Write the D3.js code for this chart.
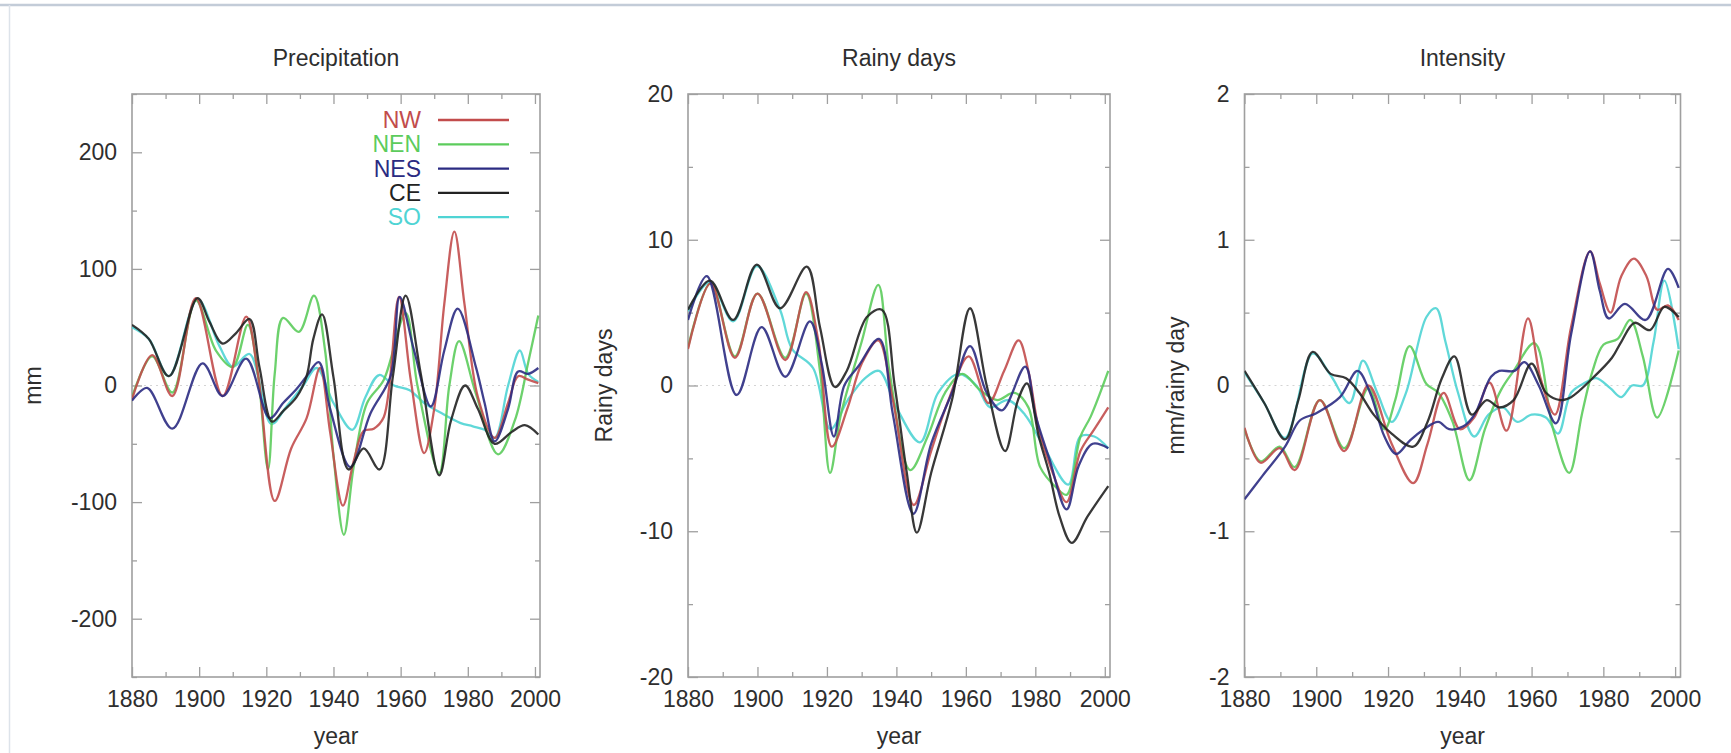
<!DOCTYPE html>
<html>
<head>
<meta charset="utf-8">
<script src="https://cdn.jsdelivr.net/npm/d3@7"></script>
<style>
  html, body { margin: 0; padding: 0; background: #ffffff; }
  svg { display: block; font-family: "Liberation Sans", Arial, Helvetica, sans-serif; }
</style>
</head>
<body>
<svg id="chart" width="1731" height="753"></svg>
<script>
// Regions and their line colours (legend order)
const regions = ["NW", "NEN", "NES", "CE", "SO"];
const regionColors = ["#c24c4c", "#5ccc5c", "#2b2b82", "#222222", "#4fd4d4"];

// Shared year axis
const yearDomain = [1880, 2001.5];
const yearTicks = [1880, 1900, 1920, 1940, 1960, 1980, 2000];
const yearMinorTicks = [1890, 1910, 1930, 1950, 1970, 1990];

// Precipitation anomalies (mm), smoothed series as [year, value] knots
const precipNW = [[1880,-12],[1886,26],[1892,-9],[1899,75],[1907,-9],[1914,59],[1917.5,10],[1922.5,-99],[1927.4,-54],[1932,-28],[1936,15],[1939,-40],[1942.8,-103],[1946,-65],[1949,-39],[1952,-37],[1955,-27],[1959.5,76],[1963,5],[1967,-58],[1970,-20],[1973,70],[1976,132],[1979,70],[1983,-10],[1988,-45],[1992,-15],[1995,8],[1998,5],[2001,2]];
const precipNEN = [[1880,-10],[1886,25],[1892,-6],[1899,73],[1905,30],[1910,16],[1914.5,52],[1917.5,10],[1920.5,-72],[1922.5,10],[1925,58],[1929.7,46],[1934.2,77],[1937.5,30],[1940,-60],[1943.1,-128],[1946,-70],[1950,-15],[1955,5],[1961.5,62],[1965,0],[1971.5,-75],[1974.5,0],[1977.4,38],[1982.4,-7],[1989,-59],[1994,-30],[1998,20],[2001,60]];
const precipNES = [[1880,-13],[1884.5,-2],[1892,-37],[1901,19],[1907,-9],[1914,23],[1921,-28],[1925,-15],[1929,-3],[1932,8],[1935.6,20],[1939,-20],[1945,-70],[1951,-24],[1957,8],[1959.7,76],[1964,30],[1969,-18],[1973,30],[1977,66],[1982.4,16],[1985,-15],[1988,-48],[1992,-20],[1995,12],[1998,10],[2001,15]];
const precipCE = [[1880,52],[1885,40],[1891,8],[1899.5,75],[1903,55],[1907,36],[1911,45],[1915,57],[1918,15],[1921.7,-31],[1925,-22],[1929,-10],[1932,8],[1934,40],[1936.6,61],[1940,7],[1944.5,-72],[1949,-54],[1953.7,-72],[1957.7,8],[1961.5,77],[1966,10],[1971.5,-77],[1975,-30],[1979.2,0],[1983,-20],[1988,-50],[1993,-40],[1997,-34],[2001,-42]];
const precipSO = [[1880,50],[1885,40],[1891,8],[1899.5,74],[1906,34],[1910,16],[1915,27],[1921.5,-33],[1926,-18],[1931,0],[1935,15],[1940,-15],[1945.6,-38],[1949.5,-10],[1953.6,9],[1958,0],[1962.7,-4],[1967,-15],[1971.7,-23],[1977.7,-32],[1981.5,-35],[1985,-38],[1988,-45],[1992,0],[1995.5,30],[1998,10],[2001,3]];
const precipTicks = [-200, -100, 0, 100, 200];
const precipMinorTicks = [-250, -150, -50, 50, 150, 250];

// Rainy-day anomalies (days)
const daysNW = [[1880,2.5],[1886.5,7],[1893.5,1.9],[1900,6.3],[1908,1.75],[1914,6.4],[1917.5,3.1],[1921.4,-4.2],[1926,-1.5],[1930,1.5],[1934.8,3.1],[1939,-1],[1945,-8.2],[1950,-4.5],[1955,-1],[1960.8,2.0],[1966.5,-1.2],[1971,1],[1975.2,3.1],[1978,1],[1981,-3],[1985,-6],[1989,-8],[1993,-4.5],[1997,-3],[2001,-1.5]];
const daysNEN = [[1880,2.6],[1886.5,7],[1893.5,2],[1900,6.3],[1908,1.9],[1914,6.3],[1918,1],[1920.9,-6],[1924,-2],[1930,3],[1934.8,6.9],[1938,1],[1944,-5.8],[1949,-3.5],[1954,-0.5],[1959,0.8],[1964,-0.3],[1969,-1],[1974,-0.5],[1978,-1.5],[1981.4,-5.6],[1986,-7],[1989,-7.5],[1993,-3.5],[1996,-2.1],[2001,1.0]];
const daysNES = [[1880,4.5],[1885.4,7.5],[1894,-0.65],[1901.2,4.0],[1908,0.6],[1915.1,4.4],[1918.5,1.5],[1922,-3.5],[1925,0],[1929,1.3],[1935,3.2],[1939,-2],[1944.9,-8.8],[1950,-4],[1956,-0.5],[1961.2,2.7],[1966,-0.5],[1970.4,-1.7],[1977.1,1.3],[1980,-2],[1984,-5],[1989,-8.5],[1992.5,-5.5],[1996.5,-4],[2001,-4.3]];
const daysCE = [[1880,5.2],[1886.3,7.2],[1893,4.5],[1899.8,8.3],[1906.5,5.3],[1914.2,8.15],[1918,4],[1922.3,-0.1],[1925.7,1],[1931.5,4.7],[1935.8,5.2],[1939.5,0],[1943,-6],[1945.9,-10.1],[1950,-6],[1956,-1],[1961.2,5.3],[1966,0],[1971.3,-4.5],[1975,-1],[1977.6,0.15],[1981,-3.5],[1984,-6],[1987,-9],[1990.5,-10.8],[1995,-9],[2001,-6.9]];
const daysSO = [[1880,5.1],[1886.3,7.1],[1893,4.4],[1899.8,8.2],[1906.5,5.2],[1910,2.5],[1916,1.2],[1921,-3],[1926,-1],[1931,0.5],[1935,1],[1940,-1.5],[1946.8,-3.9],[1952,-0.5],[1958,0.8],[1963,0],[1967,-1.5],[1972,-1],[1977,-2],[1982,-4],[1989.5,-6.8],[1993,-3.5],[1997,-3.5],[2001,-4.3]];
const daysTicks = [-20, -10, 0, 10, 20];
const daysMinorTicks = [-15, -5, 5, 15];

// Intensity anomalies (mm per rainy day)
const intensNW = [[1880,-0.29],[1884.5,-0.53],[1889.8,-0.43],[1894,-0.58],[1901,-0.1],[1907.8,-0.45],[1914.5,0.0],[1921,-0.4],[1927,-0.67],[1931,-0.4],[1935.5,-0.05],[1940,-0.3],[1944,-0.22],[1948.3,0.02],[1953,-0.31],[1959,0.46],[1962.5,0.05],[1966.5,-0.2],[1971,0.4],[1976.3,0.92],[1979,0.7],[1982,0.5],[1985,0.75],[1988.5,0.87],[1992,0.75],[1995,0.52],[1998,0.55],[2001,0.45]];
const intensNEN = [[1880,-0.3],[1884.5,-0.52],[1889.8,-0.42],[1894,-0.56],[1901,-0.1],[1907.8,-0.43],[1914.5,-0.02],[1919,-0.3],[1922,-0.1],[1926,0.27],[1930.7,0.01],[1934,-0.05],[1938,-0.25],[1942.7,-0.65],[1947,-0.3],[1951.5,-0.03],[1955,0.1],[1960.8,0.29],[1966,-0.3],[1970.5,-0.6],[1974,-0.2],[1977,0.1],[1980,0.28],[1984,0.32],[1987.5,0.45],[1991,0.2],[1995,-0.22],[2001,0.24]];
const intensNES = [[1880,-0.78],[1885,-0.62],[1891.3,-0.42],[1895.4,-0.24],[1900,-0.19],[1906.6,-0.08],[1911.5,0.1],[1915,-0.05],[1919,-0.35],[1922.3,-0.47],[1926,-0.38],[1930,-0.3],[1934,-0.25],[1937,-0.3],[1941,-0.28],[1944.1,-0.2],[1948.7,0.06],[1951,0.1],[1955.2,0.1],[1958,0.16],[1962,0.0],[1966.8,-0.26],[1971,0.35],[1976.3,0.92],[1979,0.65],[1981.5,0.46],[1986,0.56],[1991.8,0.45],[1998,0.8],[2001,0.67]];
const intensCE = [[1880,0.1],[1885.5,-0.12],[1891.3,-0.37],[1895,-0.1],[1899,0.23],[1904,0.08],[1908.3,0.05],[1912,-0.05],[1916,-0.2],[1921,-0.33],[1927,-0.42],[1931,-0.25],[1935,0.05],[1938.5,0.2],[1943.3,-0.2],[1947.5,-0.1],[1951,-0.15],[1955,-0.1],[1960,0.15],[1964,-0.05],[1968,-0.1],[1971,-0.08],[1977,0.05],[1982.4,0.19],[1985,0.3],[1988.7,0.43],[1993,0.38],[1997,0.54],[2001,0.47]];
const intensSO = [[1880,0.09],[1885.5,-0.12],[1891.3,-0.36],[1899,0.22],[1904,0.07],[1909.3,-0.12],[1913,0.17],[1917,-0.05],[1921,-0.25],[1925,-0.05],[1930.7,0.47],[1933.4,0.53],[1936,0.3],[1939.5,-0.05],[1944,-0.35],[1948,-0.2],[1952,-0.15],[1956,-0.25],[1960,-0.2],[1964,-0.22],[1967.4,-0.33],[1971,-0.05],[1975,0.02],[1978,0.05],[1982,-0.02],[1985,-0.08],[1988,0.0],[1991,0.0],[1994,0.3],[1997,0.72],[2001,0.25]];
const intensTicks = [-2, -1, 0, 1, 2];
const intensMinorTicks = [-1.5, -0.5, 0.5, 1.5];

const panels = [
  { title: "Precipitation", yLabel: "mm", left: 132, right: 540, labelX: 33,
    yDomain: [-250, 250], yTicks: precipTicks, yMinor: precipMinorTicks,
    series: [precipNW, precipNEN, precipNES, precipCE, precipSO], legend: true },
  { title: "Rainy days", yLabel: "Rainy days", left: 688, right: 1110, labelX: 604,
    yDomain: [-20, 20], yTicks: daysTicks, yMinor: daysMinorTicks,
    series: [daysNW, daysNEN, daysNES, daysCE, daysSO], legend: false },
  { title: "Intensity", yLabel: "mm/rainy day", left: 1244.5, right: 1680.5, labelX: 1176,
    yDomain: [-2, 2], yTicks: intensTicks, yMinor: intensMinorTicks,
    series: [intensNW, intensNEN, intensNES, intensCE, intensSO], legend: false }
];

const plotTop = 94, plotBottom = 677;
const textColor = "#2e2e2e";
const frameColor = "#9f9f9f";
const fontSize = 23;
// lines drawn back to front: SO, NEN, NW, NES, CE
const drawOrder = [4, 1, 0, 2, 3];

const svg = d3.select("#chart");
svg.append("rect").attr("width", 1731).attr("height", 753).attr("fill", "#ffffff");

// thin window edges
svg.append("line").attr("x1", 0).attr("x2", 1731).attr("y1", 5).attr("y2", 5)
  .attr("stroke", "#c3ccd8").attr("stroke-width", 2.5);
svg.append("line").attr("x1", 9.5).attr("x2", 9.5).attr("y1", 5).attr("y2", 753)
  .attr("stroke", "#dde3ea").attr("stroke-width", 1.5);

const defs = svg.append("defs");

panels.forEach((p, pi) => {
  const x = d3.scaleLinear().domain(yearDomain).range([p.left, p.right]);
  const y = d3.scaleLinear().domain(p.yDomain).range([plotBottom, plotTop]);
  const g = svg.append("g");

  const fmt = d => String(d);
  const styleAxis = sel => {
    sel.select(".domain").remove();
    sel.selectAll(".tick line").attr("stroke", frameColor).attr("stroke-width", 1.3);
    sel.selectAll(".tick text").attr("fill", textColor).attr("font-size", fontSize)
      .attr("font-family", "Liberation Sans, Arial, sans-serif");
  };

  // zero reference line
  g.append("line").attr("x1", p.left).attr("x2", p.right)
    .attr("y1", y(0)).attr("y2", y(0))
    .attr("stroke", "#d4d4d4").attr("stroke-width", 1).attr("stroke-dasharray", "2,4");

  // major + minor ticks on all four sides (pointing inward)
  g.append("g").attr("transform", `translate(0,${plotBottom})`)
    .call(d3.axisBottom(x).tickValues(yearTicks).tickFormat(fmt).tickSize(-10).tickSizeOuter(0).tickPadding(14))
    .call(styleAxis);
  g.append("g").attr("transform", `translate(0,${plotBottom})`)
    .call(d3.axisBottom(x).tickValues(yearMinorTicks).tickFormat("").tickSize(-5).tickSizeOuter(0))
    .call(styleAxis);
  g.append("g").attr("transform", `translate(0,${plotTop})`)
    .call(d3.axisTop(x).tickValues(yearTicks).tickFormat("").tickSize(-10).tickSizeOuter(0))
    .call(styleAxis);
  g.append("g").attr("transform", `translate(0,${plotTop})`)
    .call(d3.axisTop(x).tickValues(yearMinorTicks).tickFormat("").tickSize(-5).tickSizeOuter(0))
    .call(styleAxis);
  g.append("g").attr("transform", `translate(${p.left},0)`)
    .call(d3.axisLeft(y).tickValues(p.yTicks).tickFormat(fmt).tickSize(-10).tickSizeOuter(0).tickPadding(15))
    .call(styleAxis);
  g.append("g").attr("transform", `translate(${p.left},0)`)
    .call(d3.axisLeft(y).tickValues(p.yMinor).tickFormat("").tickSize(-5).tickSizeOuter(0))
    .call(styleAxis);
  g.append("g").attr("transform", `translate(${p.right},0)`)
    .call(d3.axisRight(y).tickValues(p.yTicks).tickFormat("").tickSize(-10).tickSizeOuter(0))
    .call(styleAxis);
  g.append("g").attr("transform", `translate(${p.right},0)`)
    .call(d3.axisRight(y).tickValues(p.yMinor).tickFormat("").tickSize(-5).tickSizeOuter(0))
    .call(styleAxis);

  // frame
  g.append("rect").attr("x", p.left).attr("y", plotTop)
    .attr("width", p.right - p.left).attr("height", plotBottom - plotTop)
    .attr("fill", "none").attr("stroke", frameColor).attr("stroke-width", 1.6);

  // data lines, clipped to the frame
  const clipId = `clip${pi}`;
  defs.append("clipPath").attr("id", clipId).append("rect")
    .attr("x", p.left).attr("y", plotTop).attr("width", p.right - p.left).attr("height", plotBottom - plotTop);
  const line = d3.line().x(d => x(d[0])).y(d => y(d[1])).curve(d3.curveCatmullRom.alpha(0.5));
  const lg = g.append("g").attr("clip-path", `url(#${clipId})`);
  drawOrder.forEach(si => {
    lg.append("path").datum(p.series[si])
      .attr("d", line).attr("fill", "none")
      .attr("stroke", regionColors[si]).attr("stroke-width", 2.3)
      .attr("stroke-linejoin", "round").attr("stroke-opacity", 0.9);
  });

  // titles
  const cx = (p.left + p.right) / 2;
  g.append("text").attr("x", cx).attr("y", 66).attr("text-anchor", "middle")
    .attr("font-size", fontSize).attr("fill", textColor).text(p.title);
  g.append("text").attr("x", cx).attr("y", 744).attr("text-anchor", "middle")
    .attr("font-size", fontSize).attr("fill", textColor).text("year");
  g.append("text").attr("transform", `translate(${p.labelX + 8},${(plotTop + plotBottom) / 2}) rotate(-90)`)
    .attr("text-anchor", "middle").attr("font-size", fontSize).attr("fill", textColor).text(p.yLabel);

  // legend
  if (p.legend) {
    regions.forEach((r, i) => {
      const ly = 120 + i * 24.3;
      g.append("text").attr("x", 421).attr("y", ly + 8).attr("text-anchor", "end")
        .attr("font-size", fontSize).attr("fill", regionColors[i]).text(r);
      g.append("line").attr("x1", 438).attr("x2", 509).attr("y1", ly).attr("y2", ly)
        .attr("stroke", regionColors[i]).attr("stroke-width", 2.3);
    });
  }
});
</script>
</body>
</html>
